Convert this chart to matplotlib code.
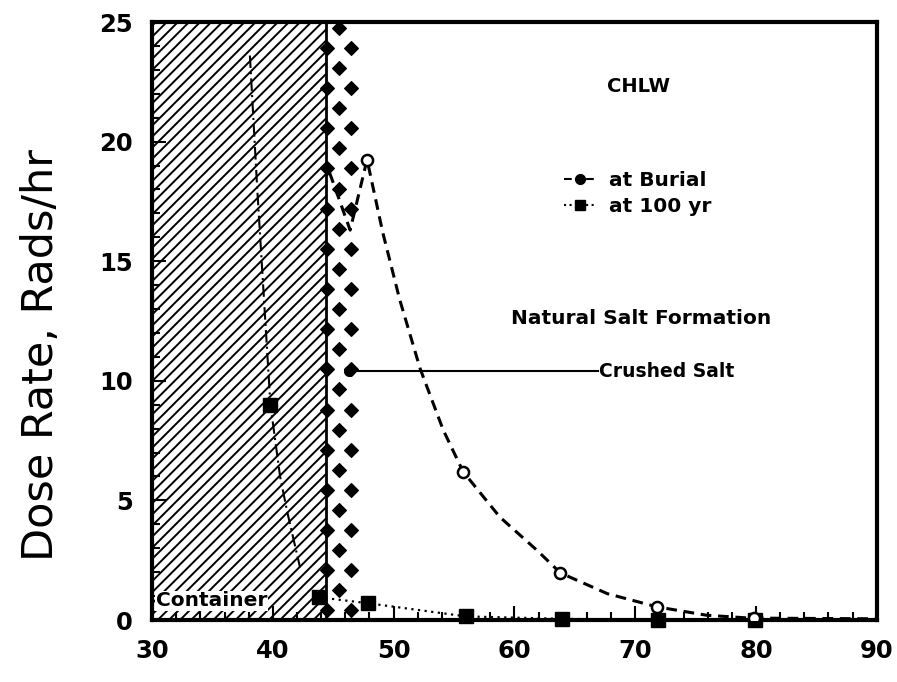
import numpy as np
import matplotlib.pyplot as plt
from matplotlib.lines import Line2D

# dose rate vs. radial distance, CHLW canister in salt
burial_x = [44.7, 46.4, 47.8, 49.1, 50.5, 52.2, 54.1, 55.75, 58.8, 61.9, 63.8,
            67.7, 71.8, 75.9, 79.5, 90]
burial_y = [18.7, 16.3, 19.25, 16.2, 13.4, 10.5, 7.95, 6.2, 4.3, 2.9, 1.97,
            1.1, 0.55, 0.2, 0.08, 0.05]
burial_mark_x = [47.8, 55.75, 63.8, 71.8, 79.8]
burial_mark_y = [19.25, 6.2, 1.97, 0.55, 0.08]

yr100_in_x = [38.1, 38.7, 39.8, 40.6, 41.2, 42.25]
yr100_in_y = [23.6, 18.1, 9.0, 6.0, 4.5, 2.2]
yr100_x = [43.8, 47.9, 56, 63.9, 71.9, 79.9]
yr100_y = [0.95, 0.7, 0.15, 0.05, 0.0, 0.0]

container_edge = 44.4
crushed_salt_pt = (46.3, 10.4)

fig = plt.figure(figsize=(8.97, 6.82), dpi=100)
ax = fig.add_axes([0.1695, 0.0909, 0.808, 0.8768])
ax.set_xlim(30, 90)
ax.set_ylim(0, 25)

# container (hatched) and crushed salt backfill (diamond pattern)
plt.rcParams['hatch.linewidth'] = 1.4
ax.axvspan(30, container_edge, facecolor='white', edgecolor='black', hatch='///', lw=0, zorder=1)
ax.axvline(container_edge, color='black', lw=2, zorder=3)
ys = np.arange(0.4, 25.2, 0.84)
for i, yv in enumerate(ys):
    cols = [container_edge + 0.1, 46.45] if i % 2 == 0 else [45.45]
    ax.scatter(cols, [yv] * len(cols), marker='D', s=48, color='black', zorder=4)

# curves
ax.plot(yr100_in_x, yr100_in_y, color='black', lw=1.5, ls=(0, (6, 2, 1, 2)), zorder=5)
ax.plot(yr100_x + [90], yr100_y + [0.0], color='black', lw=1.6, ls=(0, (1, 2)), zorder=5)
ax.plot(yr100_x, yr100_y, ls='none', marker='s', ms=10, color='black', zorder=6, clip_on=False)
ax.plot([39.8], [9.0], ls='none', marker='s', ms=10, color='black', zorder=6)
ax.plot(burial_x, burial_y, color='black', lw=2.2, ls=(0, (3.5, 2.2)), zorder=5)
ax.plot(burial_mark_x, burial_mark_y, ls='none', marker='o', ms=8, mfc='white', mec='black', mew=1.8, zorder=6)

# crushed salt leader
ax.plot([crushed_salt_pt[0], 66.9], [crushed_salt_pt[1]] * 2, color='black', lw=1.5, zorder=6)
ax.plot([crushed_salt_pt[0]], [crushed_salt_pt[1]], 'o', ms=7, color='black', zorder=6)

fs = dict(fontweight='bold', family='DejaVu Sans')
ax.text(67.0, 10.4, 'Crushed Salt', fontsize=13.5, va='center', ha='left', **fs)
ax.text(70.5, 12.6, 'Natural Salt Formation', fontsize=14.5, va='center', ha='center', **fs)
ax.text(70.3, 22.3, 'CHLW', fontsize=14, va='center', ha='center', **fs)
ax.text(30.3, 0.8, 'Container', fontsize=14.5, va='center', ha='left', zorder=7,
        bbox=dict(facecolor='white', edgecolor='none', pad=0.5), **fs)

handles = [Line2D([], [], color='black', ls='--', marker='o', ms=7, lw=1.5),
           Line2D([], [], color='black', ls=':', marker='s', ms=7, lw=1.5)]
leg = ax.legend(handles, ['at Burial', 'at 100 yr'], loc='center left', bbox_to_anchor=(0.555, 0.713),
                frameon=False, handlelength=1.6, handletextpad=0.6, labelspacing=0.35,
                borderpad=0, prop=dict(size=14.5, weight='bold'))

for s in ax.spines.values():
    s.set_linewidth(3)
ax.set_xticks(np.arange(30, 91, 10))
ax.set_yticks(np.arange(0, 26, 5))
ax.set_xticks(np.arange(30, 91, 2), minor=True)
ax.set_yticks(np.arange(0, 26, 1), minor=True)
ax.tick_params(which='major', direction='in', length=10, width=1.5, labelsize=17.5, pad=14)
ax.tick_params(which='minor', direction='in', length=6, width=1.5)
for lab in ax.get_xticklabels() + ax.get_yticklabels():
    lab.set_fontweight('bold')
ax.set_ylabel('Dose Rate, Rads/hr', fontsize=31)
ax.yaxis.set_label_coords(-0.124, 0.443)

fig.savefig('out.png', dpi=100)
